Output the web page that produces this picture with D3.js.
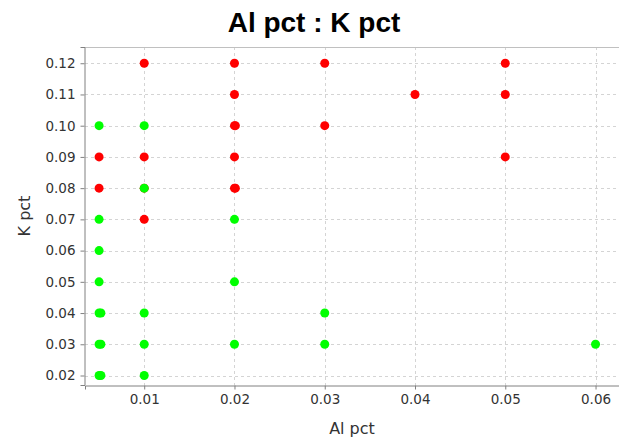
<!DOCTYPE html>
<html><head><meta charset="utf-8">
<script src="https://cdn.jsdelivr.net/npm/d3@7"></script>
<style>body{margin:0;background:#fff;} svg{display:block;}</style>
</head><body>
<svg id="c" width="619" height="440"></svg>
<script>
const xTicks = [0.01, 0.02, 0.03, 0.04, 0.05, 0.06];
const yTicks = [0.02, 0.03, 0.04, 0.05, 0.06, 0.07, 0.08, 0.09, 0.10, 0.11, 0.12];
const redAl = [0.005, 0.005, 0.01, 0.01, 0.01, 0.01, 0.02, 0.02, 0.02, 0.0201, 0.02, 0.02, 0.0201, 0.03, 0.03, 0.04, 0.05, 0.05, 0.05];
const redK  = [0.09, 0.08, 0.12, 0.09, 0.08, 0.07, 0.12, 0.11, 0.10, 0.10, 0.09, 0.08, 0.08, 0.12, 0.10, 0.11, 0.12, 0.11, 0.09];
const greenAl = [0.005, 0.005, 0.005, 0.005, 0.005, 0.0052, 0.005, 0.0052, 0.005, 0.0052, 0.01, 0.01, 0.01, 0.01, 0.01, 0.02, 0.02, 0.02, 0.03, 0.03, 0.06];
const greenK  = [0.10, 0.07, 0.06, 0.05, 0.04, 0.04, 0.03, 0.03, 0.02, 0.02, 0.10, 0.08, 0.04, 0.03, 0.02, 0.07, 0.05, 0.03, 0.04, 0.03, 0.03];

const svg = d3.select('#c');
const L = 85, R = 619, T = 47, B = 385;
const x = d3.scaleLinear().domain([0.00344, 0.0626]).range([L, R]);
const y = d3.scaleLinear().domain([0.01696, 0.1252]).range([B, T]);
const titleFont = 'Arial, "Liberation Sans", sans-serif';
const font = '"DejaVu Sans", Verdana, sans-serif';

// grid
const g = svg.append('g');
g.selectAll('.gx').data(xTicks).enter().append('line')
  .attr('x1', d => Math.round(x(d)) + 0.5).attr('x2', d => Math.round(x(d)) + 0.5)
  .attr('y1', T).attr('y2', B).attr('stroke', '#d4d4d4').attr('stroke-dasharray', '3,3');
g.selectAll('.gy').data(yTicks).enter().append('line')
  .attr('y1', d => Math.round(y(d)) + 0.5).attr('y2', d => Math.round(y(d)) + 0.5)
  .attr('x1', L).attr('x2', R).attr('stroke', '#d4d4d4').attr('stroke-dasharray', '3,3');

// top border
svg.append('line').attr('x1', L).attr('x2', R).attr('y1', T + 0.5).attr('y2', T + 0.5).attr('stroke', '#c0c0c0');

// axes
const xAxis = d3.axisBottom(x).tickValues(xTicks).tickFormat(d3.format('.2f')).tickSizeOuter(0).tickSize(4).tickPadding(5);
const yAxis = d3.axisLeft(y).tickValues(yTicks).tickFormat(d3.format('.2f')).tickSizeOuter(0).tickSize(4).tickPadding(5);
const ax = svg.append('g').attr('transform', `translate(0,${B + 0.5})`).call(xAxis);
const ay = svg.append('g').attr('transform', `translate(${L - 0.5},0)`).call(yAxis);
[ax, ay].forEach(a => {
  a.select('.domain').attr('stroke', '#808080');
  a.selectAll('.tick line').attr('stroke', '#808080');
  a.selectAll('text').attr('fill', '#333').style('font-family', font).style('font-size', '13.5px');
});

// points
const red = redAl.map((v, i) => [v, redK[i]]);
const green = greenAl.map((v, i) => [v, greenK[i]]);
svg.append('g').selectAll('circle').data(red).enter().append('circle')
  .attr('cx', d => x(d[0])).attr('cy', d => y(d[1])).attr('r', 4.5).attr('fill', '#ff0000');
svg.append('g').selectAll('circle').data(green).enter().append('circle')
  .attr('cx', d => x(d[0])).attr('cy', d => y(d[1])).attr('r', 4.5).attr('fill', '#00ff00');

// title & labels
svg.append('text').attr('x', 314).attr('y', 32).attr('text-anchor', 'middle')
  .style('font-family', titleFont).style('font-size', '28px').style('font-weight', 'bold').attr('fill', '#000')
  .text('Al pct : K pct');
svg.append('text').attr('x', (L + R) / 2).attr('y', 434).attr('text-anchor', 'middle')
  .style('font-family', font).style('font-size', '16px').attr('fill', '#333').text('Al pct');
svg.append('text').attr('transform', `translate(30,${(T + B) / 2}) rotate(-90)`).attr('text-anchor', 'middle')
  .style('font-family', font).style('font-size', '16px').attr('fill', '#333').text('K pct');
</script>
</body></html>
